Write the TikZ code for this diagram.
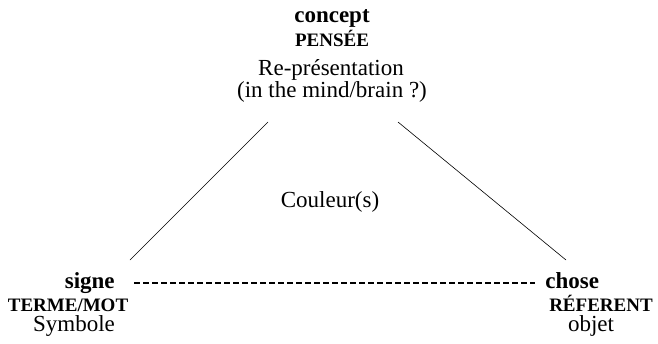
\documentclass[tikz,border=0pt]{standalone}
\usepackage{fontspec}
\setmainfont{Liberation Serif}
\usepackage{tikz}

\begin{document}
\begin{tikzpicture}[x=1pt,y=-1pt,semithick,
                    big/.style={font=\fontsize{23}{26}\selectfont,anchor=base,inner sep=0pt},
                    bigb/.style={font=\fontsize{23}{26}\selectfont\bfseries,anchor=base,inner sep=0pt},
                    smallb/.style={font=\fontsize{19}{22}\selectfont\bfseries,anchor=base,inner sep=0pt}]
  \useasboundingbox (0,0) rectangle (658,343);

  \node[bigb]   (concept) at (332,22)  {concept};
  \node[smallb] (pensee)  at (332,46)  {PENSÉE};
  \node[big]    (repr)    at (331,75)  {Re-présentation};
  \node[big]    (mind)    at (332,97)  {(in the mind/brain ?)};

  \node[big]    (couleur) at (330,207) {Couleur(s)};

  \node[bigb,anchor=base east]  (signe) at (115,288) {signe};
  \node[smallb]                 (terme) at (68,311)  {TERME/MOT};
  \node[big]                    (symb)  at (74,331)  {Symbole};

  \node[bigb,anchor=base west]  (chose) at (545,288) {chose};
  \node[smallb]                 (refer) at (601,311) {RÉFERENT};
  \node[big]                    (objet) at (591,331) {objet};

  \coordinate (L1) at (268,122);
  \coordinate (L2) at (130,260);
  \coordinate (R1) at (398,122);
  \coordinate (R2) at (566,260);

  \draw (L1) -- (L2);
  \draw (R1) -- (R2);
  \draw[line width=1.6pt,dash pattern=on 6pt off 3pt]
       ([xshift=19pt,yshift=5pt]signe.base east) -- ([xshift=-10pt,yshift=5pt]chose.base west);
\end{tikzpicture}
\end{document}
